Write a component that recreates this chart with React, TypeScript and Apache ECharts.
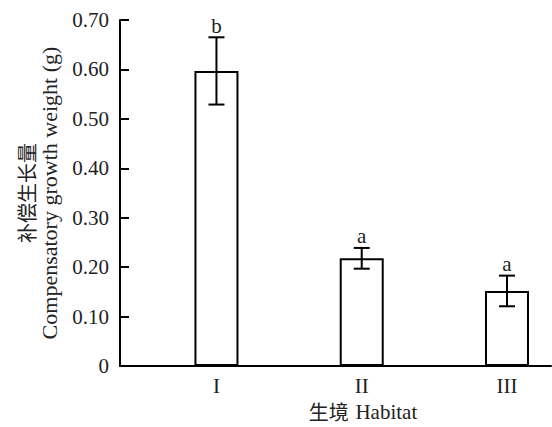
import React, { useEffect, useRef } from "react";
import * as echarts from "echarts";

const categories = ["I", "II", "III"];
const positions = [1, 2, 3];
const means = [0.597, 0.218, 0.152];
const errors = [0.068, 0.021, 0.031];
const letters = ["b", "a", "a"];
const yTicks = [0, 0.1, 0.2, 0.3, 0.4, 0.5, 0.6, 0.7];

const SERIF = "'Liberation Serif', 'Times New Roman', serif";
const CJK = "'Noto Sans CJK SC', sans-serif";

export default function App() {
  const ref = useRef<HTMLDivElement>(null);
  useEffect(() => {
    if (!ref.current) return;
    const chart = echarts.init(ref.current, null, { renderer: "svg" });
    const barData = positions.map((p, i) => [p, means[i]]);
    const errData = positions.map((p, i) => [p, means[i] - errors[i], means[i] + errors[i], letters[i]]);
    chart.setOption({
      animation: false,
      backgroundColor: "#fff",
      grid: { left: 120, right: 1, top: 20, bottom: 60 },
      xAxis: {
        type: "value",
        min: 0.336,
        max: 3.303,
        splitLine: { show: false },
        axisLine: { show: true, lineStyle: { color: "#000", width: 2 } },
        axisTick: { show: false },
        axisLabel: {
          customValues: positions,
          formatter: (v: number) => categories[Math.round(v) - 1] ?? "",
          color: "#222",
          fontFamily: SERIF,
          fontSize: 21,
          margin: 9,
        },
        name: "{cn|生境}  {en|Habitat}",
        nameLocation: "middle",
        nameGap: 30,
        nameTextStyle: {
          padding: [0, 0, 0, 55],
          rich: {
            cn: { fontFamily: CJK, fontSize: 20, color: "#222" },
            en: { fontFamily: SERIF, fontSize: 21, color: "#222" },
          },
        },
      },
      yAxis: {
        type: "value",
        min: 0,
        max: 0.7,
        interval: 0.1,
        splitLine: { show: false },
        axisLine: { show: true, lineStyle: { color: "#000", width: 2 } },
        axisTick: { show: true, inside: true, length: 9, lineStyle: { color: "#000", width: 2 } },
        axisLabel: {
          formatter: (v: number) => (v === 0 ? "0" : v.toFixed(2)),
          color: "#222",
          fontFamily: SERIF,
          fontSize: 21,
          margin: 11,
          customValues: yTicks,
        },
        name: "{cn|补偿生长量}\n{en|Compensatory growth weight (g)}",
        nameLocation: "middle",
        nameGap: 59,
        nameRotate: 90,
        nameTextStyle: {
          rich: {
            cn: { fontFamily: CJK, fontSize: 20, color: "#222", lineHeight: 23 },
            en: { fontFamily: SERIF, fontSize: 22, color: "#222", lineHeight: 23 },
          },
        },
      },
      series: [
        {
          type: "bar",
          data: barData,
          barWidth: 44,
          itemStyle: { color: "#fff", borderColor: "#000", borderWidth: 2 },
        },
        {
          type: "custom",
          data: errData,
          z: 10,
          renderItem: (params: any, api: any) => {
            const x = api.value(0);
            const lo = api.coord([x, api.value(1)]);
            const hi = api.coord([x, api.value(2)]);
            const cap = 8;
            const style = { stroke: "#000", lineWidth: 2 };
            return {
              type: "group",
              children: [
                { type: "line", shape: { x1: hi[0], y1: hi[1], x2: lo[0], y2: lo[1] }, style },
                { type: "line", shape: { x1: hi[0] - cap, y1: hi[1], x2: hi[0] + cap, y2: hi[1] }, style },
                { type: "line", shape: { x1: lo[0] - cap, y1: lo[1], x2: lo[0] + cap, y2: lo[1] }, style },
                {
                  type: "text",
                  x: hi[0],
                  y: hi[1] - 1,
                  style: {
                    text: String(api.value(3)),
                    fill: "#222",
                    font: `21px ${SERIF}`,
                    align: "center",
                    verticalAlign: "bottom",
                  },
                },
              ],
            };
          },
        },
      ],
    });
    return () => chart.dispose();
  }, []);
  return <div ref={ref} style={{ width: 552, height: 427, position: "fixed", left: 0, top: 0 }} />;
}
